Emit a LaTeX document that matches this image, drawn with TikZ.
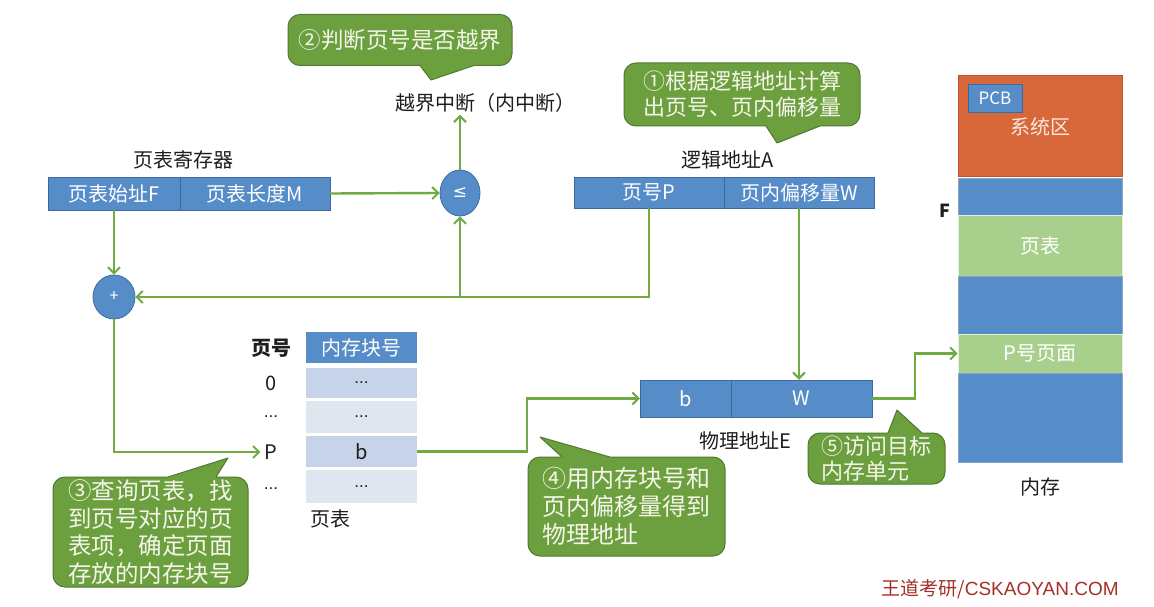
\documentclass[tikz,border=0pt]{standalone}
\usepackage{fontspec}
\setmainfont{Noto Sans CJK SC}
\newfontfamily\dejavu{DejaVu Sans}
\newfontfamily\libsans{Liberation Sans}
\usetikzlibrary{arrows.meta,shapes.geometric,calc}
\definecolor{blueA}{RGB}{86,140,200}
\definecolor{blueB}{RGB}{62,105,160}
\definecolor{arrg}{RGB}{112,170,66}
\definecolor{calf}{RGB}{108,160,62}
\definecolor{cald}{RGB}{78,122,48}
\definecolor{lgreen}{RGB}{168,208,140}
\definecolor{orng}{RGB}{216,104,58}
\definecolor{rowd}{RGB}{198,211,232}
\definecolor{rowl}{RGB}{224,230,240}
\definecolor{wmred}{RGB}{165,48,40}
\definecolor{txt}{RGB}{30,30,30}
\definecolor{caltxt}{RGB}{245,245,235}
\newcommand\calltail[6]{%
  \fill[calf] (#1,#2+#6) -- (#1,#2) -- (#3,#4) -- (#5,#2) -- (#5,#2+#6) -- cycle;
  \draw[cald,line width=1pt,line join=round] (#1,#2) -- (#3,#4) -- (#5,#2);}
\newcommand\dts{{\libsans\fontsize{17}{20}\selectfont ...}}
\begin{document}
\begin{tikzpicture}[x=1pt,y=-1pt,
  cell/.style={draw=blueB, fill=blueA, text=white, inner sep=0pt, font=\fontsize{20}{24}\selectfont},
  arr/.style={draw=arrg, line width=2.4pt, -{Straight Barb[length=6pt,width=12pt,line width=2pt]}},
  callout/.style={draw=cald, fill=calf, line width=1pt, rounded corners=12pt, text=caltxt, inner sep=0pt, align=left},
  lbl/.style={text=txt, inner sep=2pt, font=\fontsize{20}{24}\selectfont},
  ball/.style={ellipse, draw=blueB, fill=blueA, text=white, inner sep=0pt, line width=0.8pt},
  memb/.style={draw=blueB!60, fill=blueA, minimum width=164pt, inner sep=0pt, line width=0.6pt},
  memg/.style={draw=white!70!lgreen, fill=lgreen, minimum width=164pt, inner sep=0pt, line width=0.8pt, text=white, font=\fontsize{20}{24}\selectfont},
  prow/.style={minimum width=111pt, inner sep=0pt, font=\fontsize{20}{24}\selectfont, text=txt},
]
\useasboundingbox (0,0) rectangle (1154,607);
\fill[white] (0,0) rectangle (1154,607);

% ---------- callouts ----------
\node[callout, minimum width=224pt, minimum height=51pt, font=\fontsize{22.5}{26}\selectfont] (c2) at (400,40) {②判断页号是否越界};
\calltail{420}{65.5}{431}{80}{474}{-3}
\node[callout, minimum width=236pt, minimum height=63pt, font=\fontsize{22}{26}\selectfont] (c1) at (742,94.5) {①根据逻辑地址计算\\出页号、页内偏移量};
\calltail{766}{126}{777}{143}{820}{-3}
\node[callout, minimum width=195pt, minimum height=110pt, font=\fontsize{23.5}{27.5}\selectfont] (c3) at (150.5,532) {③查询页表，找\\到页号对应的页\\表项，确定页面\\存放的内存块号};
\calltail{168}{477}{228}{458}{216}{3}
\node[callout, minimum width=197pt, minimum height=99pt, font=\fontsize{24}{28}\selectfont] (c4) at (626.5,506.5) {④用内存块号和\\页内偏移量得到\\物理地址};
\calltail{562}{457}{540}{437}{610}{3}
\node[callout, minimum width=137pt, minimum height=51pt, font=\fontsize{22}{25}\selectfont] (c5) at (876.5,458.5) {⑤访问目标\\内存单元};
\calltail{888}{433}{897}{410}{922}{3}

% ---------- labels ----------
\node[lbl] (yj) at (485,103) {越界中断（内中断）};
\node[lbl] (regl) at (183,160) {页表寄存器};
\node[lbl] (lal) at (728,160) {逻辑地址A};
\node[lbl] (pal) at (745,441) {物理地址E};
\node[lbl] (ptl) at (330,519) {页表};
\node[lbl] (meml) at (1040,487) {内存};
\node[lbl, font=\fontsize{18}{22}\selectfont\bfseries] (fl) at (945,211) {F};

% ---------- page table register ----------
\node[cell, minimum width=132pt, minimum height=33pt] (regF) at (114,193.5) {页表始址F};
\node[cell, minimum width=150pt, minimum height=33pt] (regM) at (255,193.5) {页表长度M};

% ---------- logical address ----------
\node[cell, minimum width=150pt, minimum height=31pt] (pP) at (649,192.5) {页号P};
\node[cell, minimum width=150pt, minimum height=31pt] (wA) at (799,192.5) {页内偏移量W};

% ---------- physical address ----------
\node[cell, minimum width=91pt, minimum height=37pt] (physb) at (685.5,398.5) {b};
\node[cell, minimum width=141pt, minimum height=37pt] (physw) at (801.5,398.5) {W};

% ---------- comparators ----------
\node[ball, minimum width=40pt, minimum height=46pt, font=\dejavu\fontsize{17}{20}\selectfont] (le) at (460,193) {≤};
\node[ball, minimum width=42pt, minimum height=44pt, font=\fontsize{16}{18}\selectfont] (plus) at (114,297) {+};

% ---------- page table ----------
\node[lbl, font=\fontsize{20}{24}\selectfont\bfseries] (hno) at (271,348) {页号};
\node[prow, fill=blueA, text=white, minimum height=31pt] (hblk) at (361.5,347.5) {内存块号};
\node[prow, fill=rowd, minimum height=30pt] (row0) at (361.5,383) {\dts};
\node[prow, fill=rowl, minimum height=32pt] (row1) at (361.5,417) {\dts};
\node[prow, fill=rowd, minimum height=31pt] (rowb) at (361.5,451.5) {b};
\node[prow, fill=rowl, minimum height=33pt] (row3) at (361.5,486.5) {\dts};
\node[prow, minimum width=10pt] (l0) at (271,383) {0};
\node[prow, minimum width=10pt] (l1) at (271,417) {\dts};
\node[prow, minimum width=10pt, inner sep=4pt] (lblP) at (271,452) {P};
\node[prow, minimum width=10pt] (l3) at (271,489) {\dts};

% ---------- memory ----------
\node[memb, fill=orng, draw=orng!85!black, minimum height=101pt] (sys) at (1040,125.5) {};
\node[text=white!85!orng, font=\fontsize{20}{24}\selectfont, inner sep=0pt] (sysl) at (1040,127) {系统区};
\node[cell, minimum width=54pt, minimum height=28pt, font=\fontsize{17}{20}\selectfont] (pcb) at (995,98) {PCB};
\node[memb, minimum height=37pt] (m1) at (1040,196.5) {};
\node[memg, minimum height=61pt] (pt) at (1040,245.5) {页表};
\node[memb, minimum height=58pt] (m2) at (1040,305) {};
\node[memg, minimum height=39pt] (pp) at (1040,353.5) {P号页面};
\node[memb, minimum height=89pt] (m3) at (1040,417.5) {};

% ---------- connectors ----------
\draw[arr] (regM.east) -- (le.west);
\draw[arr] (le.north) -- (le.north |- yj.south);
\draw[arr] (regF.south) -- (plus.north);
\draw[arr] (pP.south) |- (plus.east);
\draw[arr] (le.south |- plus.east) -- (le.south);
\draw[arr] (wA.south) -- (wA.south |- physw.north);
\draw[arr] (plus.south) |- (lblP.west);
\draw[arr] (rowb.east) -- ++(110,0) |- (physb.west);
\draw[arr] (physw.east) -- ++(43,0) |- (pp.west);

% ---------- watermark ----------
\node[text=wmred, font=\fontsize{19}{22}\selectfont, inner sep=0pt] (wm) at (1000,589) {王道考研/{\libsans CSKAOYAN.COM}};
\end{tikzpicture}
\end{document}
